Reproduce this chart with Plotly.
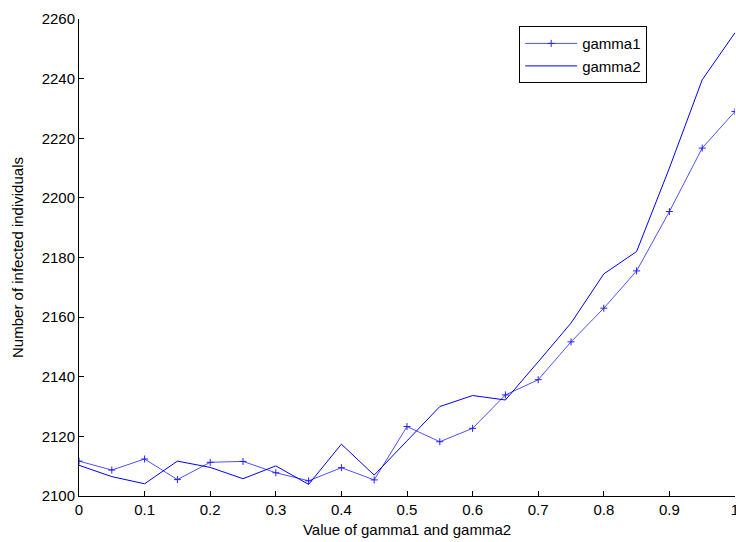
import plotly.graph_objects as go

x_vals = [0, 0.05, 0.1, 0.15, 0.2, 0.25, 0.3, 0.35, 0.4, 0.45, 0.5,
          0.55, 0.6, 0.65, 0.7, 0.75, 0.8, 0.85, 0.9, 0.95, 1.0]
gamma1 = [2111.7, 2108.7, 2112.4, 2105.5, 2111.3, 2111.6, 2107.8, 2105.1, 2109.5, 2105.4, 2123.3,
          2118.2, 2122.7, 2133.9, 2139.0, 2151.7, 2163.0, 2175.5, 2195.4, 2216.7, 2229.0]
gamma2 = [2110.3, 2106.5, 2104.1, 2111.7, 2109.6, 2105.8, 2110.1, 2103.9, 2117.4, 2107.0, 2118.5,
          2130.0, 2133.7, 2132.2, 2145.0, 2158.0, 2174.5, 2182.0, 2210.0, 2239.6, 2255.4]
x_ticks = [0, 0.1, 0.2, 0.3, 0.4, 0.5, 0.6, 0.7, 0.8, 0.9, 1]
x_tick_labels = ["0", "0.1", "0.2", "0.3", "0.4", "0.5", "0.6", "0.7", "0.8", "0.9", "1"]
y_ticks = [2100, 2120, 2140, 2160, 2180, 2200, 2220, 2240, 2260]

fig = go.Figure()
fig.add_trace(go.Scatter(
    x=x_vals, y=gamma1, name="gamma1", mode="lines+markers",
    line=dict(color="#5050ff", width=1),
    marker=dict(symbol="cross-thin", size=5, line=dict(color="#2020ff", width=1)),
))
fig.add_trace(go.Scatter(
    x=x_vals, y=gamma2, name="gamma2", mode="lines",
    line=dict(color="#0000ff", width=1),
))

font = dict(family="Liberation Sans, Arial, sans-serif", size=15, color="black")
fig.update_layout(
    width=736, height=542,
    margin=dict(l=79, r=1, t=19, b=46, autoexpand=False),
    paper_bgcolor="white", plot_bgcolor="white",
    font=font,
    showlegend=True,
    legend=dict(
        x=0.671, y=0.985, xanchor="left", yanchor="top",
        bgcolor="white", bordercolor="black", borderwidth=1,
        font=font,
        tracegroupgap=0, itemwidth=52,
    ),
    xaxis=dict(
        range=[0, 1], tickvals=x_ticks, ticktext=x_tick_labels,
        ticks="inside", ticklen=5, tickcolor="black",
        ticklabeloverflow="allow", automargin=False,
        showline=True, linecolor="black", linewidth=1, mirror=False,
        showgrid=False, zeroline=False,
        title=dict(text="Value of gamma1 and gamma2", font=font, standoff=7),
    ),
    yaxis=dict(
        range=[2100, 2260], tickvals=y_ticks,
        ticks="inside", ticklen=5, tickcolor="black",
        automargin=False,
        showline=True, linecolor="black", linewidth=1, mirror=False,
        showgrid=False, zeroline=False,
        title=dict(text="Number of infected individuals", font=font, standoff=14),
    ),
)

fig.write_html("out.html")
